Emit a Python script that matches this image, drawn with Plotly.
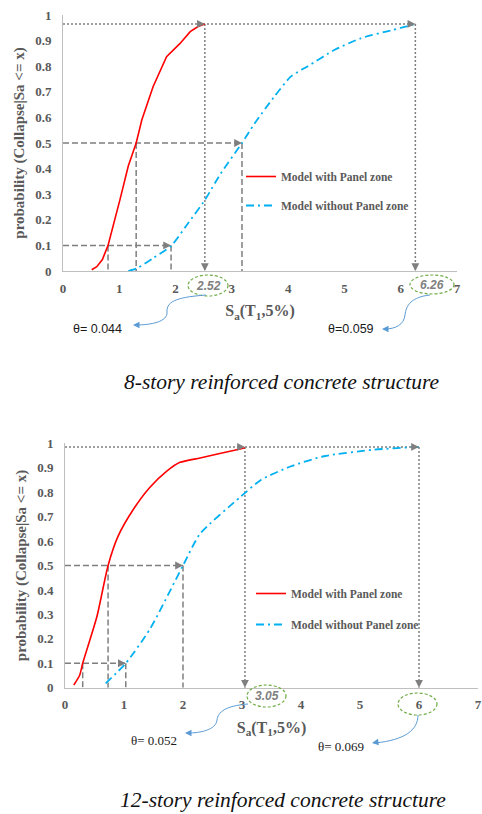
import plotly.graph_objects as go

W, H = 482, 814

# ---------------- data ----------------
# 8-story structure
top_with_x = [0.51, 0.60, 0.70, 0.80, 1.01, 1.16, 1.30, 1.40, 1.60, 1.84, 2.08, 2.26, 2.40, 2.52]
top_with_y = [0.005, 0.017, 0.045, 0.10, 0.277, 0.41, 0.50, 0.59, 0.72, 0.837, 0.889, 0.935, 0.955, 0.965]
top_without_x = [1.16, 1.31, 1.60, 1.93, 2.20, 2.52, 2.80, 3.18, 3.40, 3.75, 4.05, 4.35, 4.82, 5.29, 5.83, 6.18, 6.26]
top_without_y = [0.0, 0.01, 0.05, 0.10, 0.18, 0.277, 0.38, 0.50, 0.575, 0.68, 0.76, 0.80, 0.863, 0.909, 0.94, 0.96, 0.965]
top_marks = dict(p10_with=0.80, p10_without=1.92, med_with=1.30, med_without=3.18,
                 max_with=2.52, max_without=6.26, pmax=0.965)
top_theta = ["θ= 0.044", "θ=0.059"]
top_max_labels = ["2.52", "6.26"]
top_caption = "8-story reinforced concrete structure"

# 12-story structure
bot_with_x = [0.15, 0.25, 0.30, 0.54, 0.73, 0.90, 1.16, 1.44, 1.72, 1.95, 2.29, 2.97, 3.05]
bot_with_y = [0.011, 0.052, 0.10, 0.29, 0.50, 0.62, 0.73, 0.82, 0.885, 0.922, 0.94, 0.977, 0.982]
bot_without_x = [0.69, 1.03, 1.44, 2.00, 2.29, 2.97, 3.32, 3.83, 4.39, 5.24, 5.92, 6.00]
bot_without_y = [0.018, 0.10, 0.24, 0.50, 0.63, 0.78, 0.85, 0.906, 0.947, 0.974, 0.984, 0.985]
bot_marks = dict(p10_with=0.30, p10_without=1.03, med_with=0.73, med_without=2.00,
                 max_with=3.05, max_without=6.00, pmax=0.985)
bot_theta = ["θ= 0.052", "θ= 0.069"]
bot_max_labels = ["3.05"]
bot_caption = "12-story reinforced concrete structure"

x_ticks = [0, 1, 2, 3, 4, 5, 6, 7]
y_ticks = [0, 0.1, 0.2, 0.3, 0.4, 0.5, 0.6, 0.7, 0.8, 0.9, 1]
y_ticktext = ["0", "0.1", "0.2", "0.3", "0.4", "0.5", "0.6", "0.7", "0.8", "0.9", "1"]
names = ["Model with Panel zone", "Model without Panel zone"]

# ---------------- styles ----------------
GRAY = "#7f7f7f"
TXT = "#595959"
RED = "#FF0000"
BLUE = "#00B0F0"
ARROWBLUE = "#5B9BD5"
GREEN = "#70AD47"
SERIF = "Liberation Serif"
SANS = "Liberation Sans"


def px(x):
    return x / W


def py(y):
    return 1 - y / H


fig = go.Figure()


def add_guides(m, xa, ya):
    dx, dy = [], []
    dx += [0, m["p10_without"], None, m["p10_with"], m["p10_with"], None,
           m["p10_without"], m["p10_without"], None]
    dy += [0.1, 0.1, None, 0.1, 0, None, 0.1, 0, None]
    dx += [0, m["med_without"], None, m["med_with"], m["med_with"], None,
           m["med_without"], m["med_without"], None]
    dy += [0.5, 0.5, None, 0.5, 0, None, 0.5, 0, None]
    fig.add_trace(go.Scatter(x=dx, y=dy, mode="lines", xaxis=xa, yaxis=ya,
                             line=dict(color=GRAY, width=1.5, dash="6px,3px"),
                             showlegend=False, hoverinfo="skip"))
    ox = [0, m["max_without"], None, m["max_with"], m["max_with"], None,
          m["max_without"], m["max_without"]]
    oy = [m["pmax"], m["pmax"], None, m["pmax"], 0, None, m["pmax"], 0]
    fig.add_trace(go.Scatter(x=ox, y=oy, mode="lines", xaxis=xa, yaxis=ya,
                             line=dict(color=GRAY, width=1.5, dash="2px,2px"),
                             showlegend=False, hoverinfo="skip"))
    heads = [(m["p10_without"], 0.1, -7, 0), (m["med_without"], 0.5, -7, 0),
             (m["max_with"], m["pmax"], -7, 0), (m["max_without"], m["pmax"], -7, 0),
             (m["max_with"], 0, 0, -7), (m["max_without"], 0, 0, -7)]
    for hx, hy, ax, ay in heads:
        fig.add_annotation(x=hx, y=hy, xref=xa, yref=ya, text="", showarrow=True,
                           ax=ax, ay=ay, arrowhead=2, arrowsize=1.2, arrowwidth=1.3,
                           arrowcolor=GRAY)


add_guides(top_marks, "x", "y")
add_guides(bot_marks, "x2", "y2")

fig.add_trace(go.Scatter(x=top_with_x, y=top_with_y, mode="lines", name=names[0],
                         line=dict(color=RED, width=1.6),
                         legend="legend", legendgroup="a"))
fig.add_trace(go.Scatter(x=top_without_x, y=top_without_y, mode="lines", name=names[1],
                         line=dict(color=BLUE, width=1.8, dash="8px,4px,2px,4px",
                                   shape="spline", smoothing=0.6),
                         legend="legend", legendgroup="b"))
fig.add_trace(go.Scatter(x=bot_with_x, y=bot_with_y, mode="lines", name=names[0],
                         xaxis="x2", yaxis="y2",
                         line=dict(color=RED, width=1.6, shape="spline", smoothing=0.6),
                         legend="legend2", legendgroup="c"))
fig.add_trace(go.Scatter(x=bot_without_x, y=bot_without_y, mode="lines", name=names[1],
                         xaxis="x2", yaxis="y2",
                         line=dict(color=BLUE, width=1.8, dash="8px,4px,2px,4px",
                                   shape="spline", smoothing=0.6),
                         legend="legend2", legendgroup="d"))

tickfont = dict(family=SERIF, size=13, color=TXT, weight="bold")
titlefont = dict(family=SERIF, size=15, color=TXT, weight="bold")
xtitle = "S<sub>a</sub>(T<sub>1</sub>,5%)"
ytitle = "probability (Collapse|Sa <= x)"

common_x = dict(range=[0, 7], tickvals=x_ticks, showgrid=False, zeroline=False,
                showline=True, linecolor="#BFBFBF", linewidth=1, ticks="outside",
                ticklen=5, tickcolor="rgba(0,0,0,0)", tickfont=tickfont, automargin=False,
                title=dict(text=xtitle, font=dict(family=SERIF, size=16, color=TXT, weight="bold"),
                           standoff=10))
common_y = dict(range=[0, 1], tickvals=y_ticks, ticktext=y_ticktext, showgrid=False,
                zeroline=False, showline=True, linecolor="#BFBFBF", linewidth=1,
                ticks="outside", ticklen=8, tickcolor="rgba(0,0,0,0)", tickfont=tickfont,
                automargin=False, title=dict(text=ytitle, font=titlefont, standoff=6))

legend_font = dict(family=SERIF, size=11.5, color=TXT, weight="bold")
legend_common = dict(xanchor="left", yanchor="top", bgcolor="rgba(0,0,0,0)",
                     font=legend_font, traceorder="grouped", itemwidth=30)

fig.update_layout(
    width=W, height=H, margin=dict(l=0, r=0, t=0, b=0, autoexpand=False),
    paper_bgcolor="white", plot_bgcolor="white",
    xaxis=dict(domain=[px(63), px(457)], anchor="y", **common_x),
    yaxis=dict(domain=[py(271), py(15)], anchor="x", **common_y),
    xaxis2=dict(domain=[px(65), px(478)], anchor="y2", **common_x),
    yaxis2=dict(domain=[py(687.7), py(443.3)], anchor="x2", **common_y),
    legend=dict(x=px(241), y=py(162), tracegroupgap=10, **legend_common),
    legend2=dict(x=px(251), y=py(579), tracegroupgap=12, **legend_common),
)

ellipses = [(188, 275, 228, 296), (410, 275, 454, 294), (247, 685, 286, 707), (398, 693, 437, 715)]
for x0, y0, x1, y1 in ellipses:
    fig.add_shape(type="circle", xref="paper", yref="paper", x0=px(x0), x1=px(x1),
                  y0=py(y1), y1=py(y0), line=dict(color=GREEN, width=1.2, dash="3px,2px"))

label_pos = [(208, 285.5, top_max_labels[0]), (432, 284.5, top_max_labels[1]),
             (266.5, 696, bot_max_labels[0])]
for lx, ly, t in label_pos:
    fig.add_annotation(x=px(lx), y=py(ly), xref="paper", yref="paper", text=t,
                       showarrow=False, xanchor="center", yanchor="middle",
                       font=dict(family=SANS, size=12, color=GRAY, style="italic", weight="bold"))


def P(pts):
    out = []
    for cmd, coords in pts:
        s = " ".join(f"{px(a):.5f},{py(b):.5f}" for a, b in coords)
        out.append(f"{cmd} {s}")
    return " ".join(out)


curves = [
    [("M", [(206, 295)]), ("C", [(181, 297), (166, 300), (167, 312)]),
     ("C", [(168, 322), (150, 325), (136, 325)])],
    [("M", [(430, 295)]), ("C", [(412, 297), (406, 305), (405, 315)]),
     ("C", [(404, 325), (395, 329), (385, 329)])],
    [("M", [(248, 704)]), ("C", [(225, 706), (218, 712), (217, 720)]),
     ("C", [(216, 730), (200, 733), (188, 733)])],
    [("M", [(418, 715)]), ("C", [(418, 730), (405, 740), (375, 743)])],
]
for c in curves:
    fig.add_shape(type="path", xref="paper", yref="paper", path=P(c),
                  line=dict(color=ARROWBLUE, width=1))

tips = [(133, 325, 7, 0), (382, 329, 7, 0), (185, 733, 7, 0), (372, 743, 7, -1)]
for tx, ty, ax, ay in tips:
    fig.add_annotation(x=px(tx), y=py(ty), xref="paper", yref="paper", text="",
                       showarrow=True, ax=ax, ay=ay, arrowhead=2, arrowsize=1.3,
                       arrowwidth=1, arrowcolor=ARROWBLUE)

theta_pos = [(97.5, 329, top_theta[0], SANS, 12.5), (350.5, 329, top_theta[1], SANS, 12.5),
             (153.5, 740, bot_theta[0], SERIF, 13), (341, 746, bot_theta[1], SERIF, 13)]
for tx, ty, t, fam, fs in theta_pos:
    fig.add_annotation(x=px(tx), y=py(ty), xref="paper", yref="paper", text=t,
                       showarrow=False, xanchor="center", yanchor="middle",
                       font=dict(family=fam, size=fs, color="#1a1a1a"))

for cx, cy, t in [(282, 382, top_caption), (283, 800, bot_caption)]:
    fig.add_annotation(x=px(cx), y=py(cy), xref="paper", yref="paper", text=t,
                       showarrow=False, xanchor="center", yanchor="middle",
                       font=dict(family=SERIF, size=21.5, color="#111111", style="italic"))

fig.write_html("out.html", config={"displayModeBar": False},
               post_script="document.body.style.margin='0';document.body.style.padding='0';"
                           "document.documentElement.style.overflow='hidden';")
